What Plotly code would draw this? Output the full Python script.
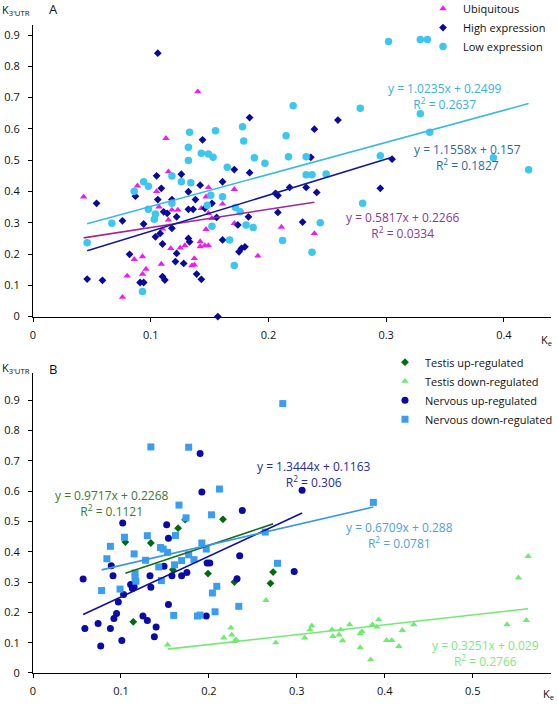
import plotly.graph_objects as go

# ---------------- Panel A data ----------------
ubiq_x = [0.043,0.076,0.080,0.086,0.0887,0.093,0.093,0.096,0.105,0.107,0.109,0.110,0.113,0.115,0.115,0.117,0.118,0.123,0.125,0.129,0.137,0.137,0.140,0.142,0.143,0.146,0.147,0.147,0.149,0.149,0.149,0.152,0.161,0.171,0.171,0.191,0.211,0.239,0.135,0.142]
ubiq_y = [0.383,0.062,0.130,0.183,0.418,0.192,0.136,0.152,0.400,0.351,0.168,0.280,0.570,0.463,0.309,0.218,0.341,0.341,0.220,0.227,0.186,0.165,0.719,0.224,0.346,0.227,0.383,0.279,0.413,0.330,0.227,0.314,0.360,0.407,0.298,0.194,0.286,0.266,0.163,0.240]

high_x = [0.046,0.054,0.059,0.076,0.082,0.087,0.091,0.094,0.094,0.104,0.105,0.106,0.106,0.108,0.109,0.110,0.110,0.111,0.112,0.114,0.118,0.118,0.121,0.122,0.122,0.126,0.128,0.132,0.132,0.132,0.133,0.136,0.138,0.139,0.142,0.143,0.144,0.146,0.152,0.156,0.157,0.161,0.161,0.171,0.174,0.175,0.177,0.180,0.183,0.184,0.184,0.206,0.208,0.208,0.218,0.229,0.232,0.236,0.239,0.241,0.259,0.295,0.305]
high_y = [0.120,0.362,0.116,0.306,0.199,0.385,0.109,0.109,0.296,0.255,0.450,0.374,0.842,0.266,0.410,0.232,0.128,0.335,0.117,0.330,0.374,0.282,0.176,0.319,0.202,0.455,0.170,0.399,0.343,0.250,0.239,0.343,0.374,0.136,0.420,0.119,0.565,0.346,0.362,0.317,0.0,0.431,0.245,0.470,0.293,0.207,0.218,0.223,0.319,0.460,0.636,0.394,0.387,0.333,0.413,0.302,0.413,0.509,0.599,0.397,0.628,0.410,0.503]

low_x = [0.046,0.067,0.086,0.093,0.094,0.098,0.098,0.103,0.104,0.118,0.118,0.126,0.132,0.132,0.133,0.134,0.143,0.148,0.149,0.151,0.152,0.153,0.155,0.161,0.165,0.167,0.171,0.172,0.176,0.178,0.179,0.181,0.187,0.188,0.197,0.212,0.215,0.217,0.221,0.232,0.232,0.237,0.237,0.244,0.249,0.278,0.280,0.295,0.302,0.329,0.335,0.329,0.337,0.391,0.421]
low_y = [0.236,0.298,0.401,0.080,0.431,0.417,0.343,0.311,0.328,0.449,0.362,0.431,0.541,0.499,0.589,0.428,0.522,0.356,0.520,0.388,0.289,0.509,0.594,0.383,0.477,0.245,0.163,0.349,0.335,0.607,0.561,0.293,0.285,0.508,0.490,0.243,0.578,0.511,0.674,0.511,0.453,0.453,0.206,0.300,0.456,0.666,0.362,0.514,0.879,0.886,0.886,0.648,0.589,0.508,0.469]

# ---------------- Panel B data ----------------
tu_x = [0.105,0.114,0.134,0.159,0.165,0.173,0.199,0.216,0.229,0.270,0.273]
tu_y = [0.432,0.169,0.429,0.341,0.478,0.506,0.328,0.507,0.300,0.296,0.333]

td_x = [0.153,0.217,0.225,0.226,0.229,0.231,0.265,0.276,0.309,0.315,0.317,0.340,0.341,0.348,0.350,0.352,0.360,0.372,0.374,0.372,0.384,0.386,0.391,0.393,0.402,0.408,0.416,0.420,0.433,0.539,0.561,0.552,0.563]
td_y = [0.093,0.116,0.149,0.126,0.104,0.110,0.240,0.100,0.116,0.143,0.156,0.143,0.121,0.126,0.143,0.107,0.160,0.130,0.137,0.084,0.044,0.160,0.152,0.176,0.108,0.108,0.088,0.141,0.160,0.160,0.174,0.314,0.385]

nu_x = [0.057,0.059,0.074,0.077,0.088,0.089,0.091,0.092,0.095,0.097,0.101,0.102,0.103,0.111,0.113,0.115,0.125,0.130,0.133,0.134,0.138,0.140,0.149,0.152,0.154,0.154,0.158,0.169,0.175,0.190,0.192,0.197,0.198,0.201,0.232,0.235,0.238,0.297,0.306]
nu_y = [0.310,0.147,0.163,0.089,0.147,0.354,0.321,0.180,0.196,0.234,0.107,0.495,0.259,0.292,0.279,0.285,0.188,0.173,0.321,0.283,0.120,0.152,0.352,0.489,0.445,0.226,0.321,0.321,0.332,0.724,0.597,0.188,0.363,0.363,0.311,0.387,0.536,0.335,0.603]

nd_x = [0.078,0.084,0.088,0.099,0.104,0.115,0.116,0.116,0.117,0.128,0.130,0.134,0.143,0.145,0.148,0.146,0.153,0.160,0.161,0.162,0.166,0.169,0.174,0.177,0.177,0.183,0.187,0.190,0.192,0.197,0.203,0.204,0.207,0.209,0.212,0.234,0.264,0.278,0.284,0.387]
nd_y = [0.272,0.377,0.418,0.277,0.448,0.393,0.330,0.314,0.303,0.372,0.453,0.746,0.350,0.414,0.409,0.305,0.398,0.190,0.357,0.454,0.554,0.371,0.512,0.745,0.390,0.374,0.188,0.191,0.429,0.409,0.522,0.264,0.202,0.286,0.607,0.220,0.465,0.362,0.889,0.563]

# trendline equations (slope, intercept, R^2) as printed on the chart
ubiq_fit = (0.5817, 0.2266, "0.0334")
high_fit = (1.1558, 0.157, "0.1827")
low_fit = (1.0235, 0.2499, "0.2637")
tu_fit = (0.9717, 0.2268, "0.1121")
td_fit = (0.3251, 0.029, "0.2766")
nu_fit = (1.3444, 0.1163, "0.306")
nd_fit = (0.6709, 0.288, "0.0781")

xticks_a = [0, 0.1, 0.2, 0.3, 0.4]
xticks_b = [0, 0.1, 0.2, 0.3, 0.4, 0.5]
yticks = [0, 0.1, 0.2, 0.3, 0.4, 0.5, 0.6, 0.7, 0.8, 0.9]

FONT = "Open Sans"

fig = go.Figure()

def add_series(x, y, name, symbol, color, size, xa, ya, legend):
    fig.add_trace(go.Scatter(
        x=x, y=y, mode="markers", name=name, xaxis=xa, yaxis=ya, legend=legend,
        marker=dict(symbol=symbol, color=color, size=size, line=dict(width=0)),
        cliponaxis=False))

def add_fit(x, fit, color, xa, ya):
    s, b, _ = fit
    xs = [min(x), max(x)]
    fig.add_trace(go.Scatter(
        x=xs, y=[s * v + b for v in xs], mode="lines", showlegend=False,
        xaxis=xa, yaxis=ya, line=dict(color=color, width=1.6), hoverinfo="skip"))

UBQ, HIGH, LOW = "#ee1cee", "#0a0a9a", "#3cc6f0"
TU, TD, NU, ND = "#006a10", "#70ea70", "#0a0aa8", "#3a9cf2"

add_series(ubiq_x, ubiq_y, "Ubiquitous", "triangle-up", UBQ, 6.5, "x", "y", "legend")
add_series(high_x, high_y, "High expression", "diamond", HIGH, 6, "x", "y", "legend")
add_series(low_x, low_y, "Low expression", "circle", LOW, 7.5, "x", "y", "legend")
add_fit(ubiq_x, ubiq_fit, "#a0289c", "x", "y")
add_fit(high_x, high_fit, "#0f1a9a", "x", "y")
add_fit(low_x, low_fit, "#3ab8ea", "x", "y")

add_series(tu_x, tu_y, "Testis up-regulated", "diamond", TU, 6, "x2", "y2", "legend2")
add_series(td_x, td_y, "Testis down-regulated", "triangle-up", TD, 6.5, "x2", "y2", "legend2")
add_series(nu_x, nu_y, "Nervous up-regulated", "circle", NU, 7, "x2", "y2", "legend2")
add_series(nd_x, nd_y, "Nervous down-regulated", "square", ND, 7, "x2", "y2", "legend2")
add_fit(tu_x, tu_fit, "#1a6e1a", "x2", "y2")
add_fit(td_x, td_fit, "#70ea70", "x2", "y2")
add_fit(nu_x, nu_fit, "#1010a0", "x2", "y2")
add_fit(nd_x, nd_fit, "#3a98e6", "x2", "y2")

def eq_text(fit):
    s, b, r2 = fit
    return f"y = {s}x + {b}<br>R<sup>2</sup> = {r2}"

anns = []
def eq(fit, x, y, color, xr, yr):
    anns.append(dict(text=eq_text(fit), x=x, y=y, xref=xr, yref=yr, showarrow=False,
                     align="center", font=dict(family=FONT, size=12, color=color)))

eq(low_fit, 0.350, 0.705, "#38b0e0", "x", "y")
eq(high_fit, 0.369, 0.507, "#2a6aa8", "x", "y")
eq(ubiq_fit, 0.314, 0.290, "#8a3a9a", "x", "y")
eq(tu_fit, 0.0895, 0.559, "#3a7a30", "x2", "y2")
eq(nu_fit, 0.319, 0.654, "#2a2a9c", "x2", "y2")
eq(nd_fit, 0.417, 0.453, "#4aa2e6", "x2", "y2")
eq(td_fit, 0.514, 0.064, "#7ee87e", "x2", "y2")

def label(text, x, y, size, xanchor="left"):
    anns.append(dict(text=text, x=x, y=y, xref="paper", yref="paper", showarrow=False,
                     xanchor=xanchor, yanchor="middle",
                     font=dict(family=FONT, size=size, color="#111")))

label("K<sub>3'UTR</sub>", -0.064, 1.023, 11)
label("A", 0.027, 1.024, 13)
label("K<sub>e</sub>", 0.977, 0.514, 11)
label("K<sub>3'UTR</sub>", -0.064, 0.470, 11)
label("B", 0.027, 0.469, 13)
label("K<sub>e</sub>", 0.981, -0.033, 11)

axis_common = dict(showline=True, linecolor="black", linewidth=1, ticks="outside",
                   ticklen=4, tickcolor="black", showgrid=False, zeroline=False,
                   tickfont=dict(family=FONT, size=11, color="#111"))

fig.update_layout(
    width=558, height=704,
    margin=dict(l=33, r=7, t=25, b=31, autoexpand=False),
    paper_bgcolor="white", plot_bgcolor="white",
    font=dict(family=FONT, size=11, color="#111"),
    xaxis=dict(domain=[0, 1], anchor="y", range=[0, 0.440], tickvals=xticks_a,
               ticktext=[str(v) for v in xticks_a], ticklabelstandoff=4, **axis_common),
    yaxis=dict(domain=[0.550, 1], anchor="x", range=[0, 0.932], tickvals=yticks,
               ticktext=[str(v) for v in yticks], ticklabelstandoff=6, **axis_common),
    xaxis2=dict(domain=[0, 1], anchor="y2", range=[0, 0.589], tickvals=xticks_b,
                ticktext=[str(v) for v in xticks_b], ticklabelstandoff=4, **axis_common),
    yaxis2=dict(domain=[0, 0.463], anchor="x2", range=[0, 0.990], tickvals=yticks,
                ticktext=[str(v) for v in yticks], ticklabelstandoff=6, **axis_common),
    legend=dict(xref="paper", yref="paper", x=1.0, y=1.0478, xanchor="right",
                yanchor="top", bgcolor="rgba(0,0,0,0)", tracegroupgap=0,
                font=dict(family=FONT, size=11, color="#111"), itemwidth=30),
    legend2=dict(xref="paper", yref="paper", x=1.0135, y=0.502, xanchor="right",
                 yanchor="top", bgcolor="rgba(0,0,0,0)", tracegroupgap=0,
                 font=dict(family=FONT, size=11, color="#111"), itemwidth=30),
    annotations=anns,
    showlegend=True,
)

fig.write_html("out.html", config={"displayModeBar": False},
               post_script="document.body.style.margin='0';")
